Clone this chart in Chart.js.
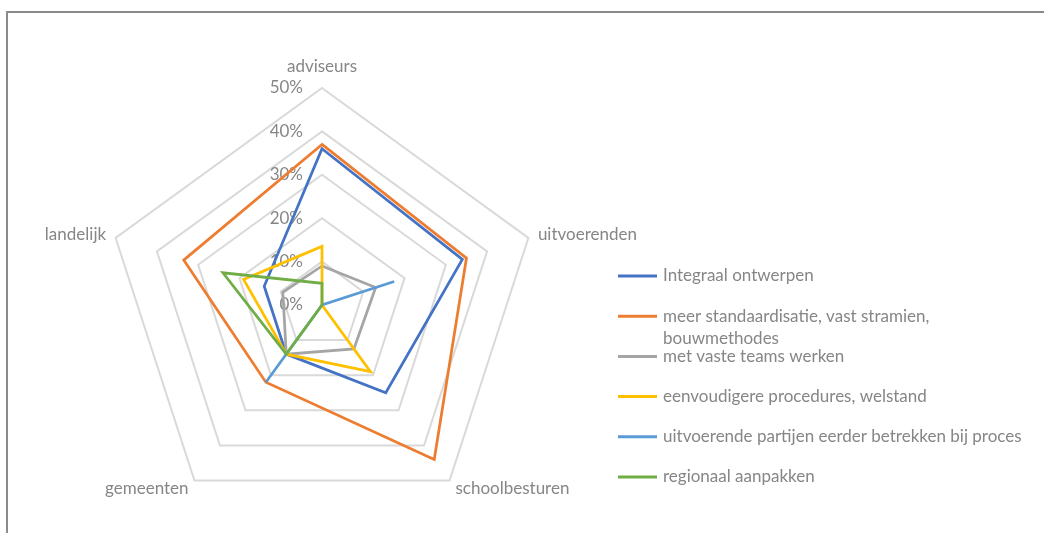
<!DOCTYPE html>
<html>
<head>
<meta charset="utf-8">
<title>Versnelling schoolbouw</title>
<script src="https://cdn.jsdelivr.net/npm/chart.js@4/dist/chart.umd.min.js"></script>
<style>
  html, body { margin: 0; padding: 0; background: #ffffff; }
  #wrap { position: relative; width: 1044px; height: 533px; overflow: hidden; }
  #frame {
    position: absolute; left: 6px; top: 11px; right: -10px; bottom: -10px;
    border-top: 2px solid #8a8a8a; border-left: 2px solid #8a8a8a;
  }
  #chart { position: absolute; left: 0; top: 0; }
</style>
</head>
<body>
<div id="wrap">
  <div id="frame"></div>
  <canvas id="chart" width="1044" height="533"></canvas>
</div>
<script>
// Axes of the radar, clockwise from the top
const categories = ['adviseurs', 'uitvoerenden', 'schoolbesturen', 'gemeenten', 'landelijk'];

// Share of respondents (%) per measure, per group
const integraalOntwerpen      = [36, 34, 25, 14, 14];
const meerStandaardisatie     = [37, 35, 44, 22, 33.5];
const vasteTeams              = [9, 13, 12.5, 14, 9.5];
const eenvoudigereProcedures  = [13.5, 0, 19, 14, 19];
const eerderBetrekken         = [0, 17.5, 0, 22, 0];
const regionaalAanpakken      = [5, 0, 0, 14, 24];

const seriesNames = [
  'Integraal ontwerpen',
  'meer standaardisatie, vast stramien, bouwmethodes',
  'met vaste teams werken',
  'eenvoudigere procedures, welstand',
  'uitvoerende partijen eerder betrekken bij proces',
  'regionaal aanpakken'
];
const seriesValues = [
  integraalOntwerpen, meerStandaardisatie, vasteTeams,
  eenvoudigereProcedures, eerderBetrekken, regionaalAanpakken
];
const seriesColors = ['#4472C4', '#ED7D31', '#A5A5A5', '#FFC000', '#5B9BD5', '#70AD47'];

// Radial axis
const tickLabels = ['0%', '10%', '20%', '30%', '40%', '50%'];
const axisMin = 0, axisMax = 50, axisStep = 10;

const FONT_FAMILY = 'Lato, "Open Sans", sans-serif';
const FONT_SIZE = 17;
const TEXT_COLOR = '#868686';

// Tick values and category names drawn the way an office chart places them:
// tick values to the left of the vertical axis, category names centred on their spoke end.
const radarText = {
  id: 'radarText',
  beforeDatasetsDraw(chart) {
    const r = chart.scales.r;
    const ctx = chart.ctx;
    ctx.save();
    ctx.font = FONT_SIZE + 'px ' + FONT_FAMILY;
    ctx.fillStyle = TEXT_COLOR;

    ctx.textAlign = 'right';
    ctx.textBaseline = 'middle';
    r.ticks.forEach(t => {
      const y = r.yCenter - r.getDistanceFromCenterForValue(t.value);
      ctx.fillText(t.label, r.xCenter - 19, y);
    });

    chart.data.labels.forEach((label, i) => {
      const p0 = r.getPointPosition(i, r.drawingArea);
      const dx = p0.x - r.xCenter;
      const centred = Math.abs(dx) < 1;
      const p = r.getPointPosition(i, r.drawingArea + (centred ? 13 : 10));
      ctx.textAlign = centred ? 'center' : (dx > 0 ? 'left' : 'right');
      ctx.textBaseline = centred ? (p.y < r.yCenter ? 'bottom' : 'top') : 'middle';
      ctx.fillText(label, p.x, p.y);
    });
    ctx.restore();
  }
};

// Legend to the right of the radar; long entries wrap onto a second line
const sideLegend = {
  id: 'sideLegend',
  afterDraw(chart, args, opts) {
    const ctx = chart.ctx;
    ctx.save();
    ctx.font = FONT_SIZE + 'px ' + FONT_FAMILY;
    ctx.textBaseline = 'middle';
    ctx.textAlign = 'left';
    chart.data.datasets.forEach((ds, i) => {
      const y = opts.top + i * opts.rowStep;
      ctx.strokeStyle = ds.borderColor;
      ctx.lineWidth = 3;
      ctx.beginPath();
      ctx.moveTo(opts.left, y);
      ctx.lineTo(opts.left + opts.lineLength, y);
      ctx.stroke();

      const words = ds.label.split(' ');
      const lines = [];
      let cur = '';
      words.forEach(w => {
        const test = cur ? cur + ' ' + w : w;
        if (cur && ctx.measureText(test).width > opts.maxWidth) {
          lines.push(cur);
          cur = w;
        } else {
          cur = test;
        }
      });
      lines.push(cur);
      ctx.fillStyle = TEXT_COLOR;
      lines.forEach((line, k) => {
        ctx.fillText(line, opts.left + opts.lineLength + opts.gap, y + k * opts.lineStep);
      });
    });
    ctx.restore();
  }
};

const datasets = seriesNames.map((name, i) => ({
  label: name,
  data: seriesValues[i],
  borderColor: seriesColors[i],
  backgroundColor: seriesColors[i],
  borderWidth: 2.75,
  pointRadius: 0,
  pointHoverRadius: 0,
  fill: false,
  order: seriesNames.length - i
}));

new Chart(document.getElementById('chart'), {
  type: 'radar',
  data: { labels: categories, datasets },
  options: {
    responsive: false,
    animation: false,
    layout: { padding: { left: 105, right: 505, top: 88, bottom: 11 } },
    plugins: {
      legend: { display: false },
      tooltip: { enabled: false },
      sideLegend: { left: 618, top: 276, rowStep: 40.2, lineStep: 22.5, lineLength: 39, gap: 6, maxWidth: 370 }
    },
    scales: {
      r: {
        min: axisMin,
        max: axisMax,
        startAngle: 0,
        angleLines: { display: false },
        grid: { color: '#d9d9d9', lineWidth: 2 },
        pointLabels: { display: false },
        ticks: {
          display: false,
          stepSize: axisStep,
          callback: (v, i) => tickLabels[i]
        }
      }
    }
  },
  plugins: [radarText, sideLegend]
});
</script>
</body>
</html>
